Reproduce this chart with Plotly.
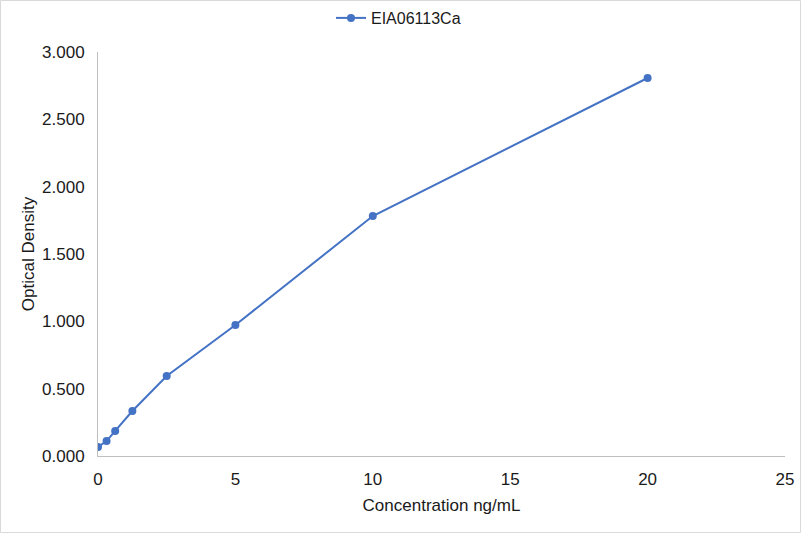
import plotly.graph_objects as go

concentration = [0, 0.3125, 0.625, 1.25, 2.5, 5, 10, 20]
optical_density = [0.067, 0.111, 0.186, 0.334, 0.594, 0.973, 1.782, 2.807]
series_name = "EIA06113Ca"

W, H = 801, 533
L, R, T, B = 98, 16, 52, 77
pw, ph = W - L - R, H - T - B
TXT = "#1a1a1a"

fig = go.Figure()
fig.add_trace(go.Scatter(
    x=concentration, y=optical_density, mode="lines+markers", name=series_name,
    line=dict(color="#4472C4", width=2),
    marker=dict(color="#4472C4", size=8),
))

fig.update_layout(
    width=W, height=H,
    margin=dict(l=L, r=R, t=T, b=B, autoexpand=False),
    paper_bgcolor="white", plot_bgcolor="white",
    font=dict(family="Liberation Sans, Arial, sans-serif", size=17, color=TXT),
    showlegend=True,
    legend=dict(orientation="h", x=(331 - L) / pw, xanchor="left", y=1 + 34 / ph, yanchor="middle",
                font=dict(size=16, color=TXT), bgcolor="rgba(0,0,0,0)"),
    xaxis=dict(range=[0, 25], tickvals=[0, 5, 10, 15, 20, 25], showgrid=False, zeroline=False,
               showline=True, linecolor="#BFBFBF", linewidth=1, ticks="", automargin=False,
               ticklabelstandoff=8,
               tickfont=dict(size=17, color=TXT),
               title=dict(text="Concentration ng/mL", font=dict(size=17, color=TXT), standoff=10)),
    yaxis=dict(range=[0, 3], tickvals=[0, 0.5, 1, 1.5, 2, 2.5, 3], tickformat=".3f", showgrid=False,
               zeroline=False, showline=True, linecolor="#BFBFBF", linewidth=1, ticks="",
               automargin=False, ticklabelstandoff=9,
               tickfont=dict(size=17, color=TXT),
               title=dict(text="Optical Density", font=dict(size=17, color=TXT), standoff=3)),
)

fig.add_shape(type="rect", xref="paper", yref="paper",
              x0=(0.5 - L) / pw, x1=(W - 0.5 - L) / pw,
              y0=-(B - 0.5) / ph, y1=1 + (T - 0.5) / ph,
              line=dict(color="#D9D9D9", width=1), fillcolor="rgba(0,0,0,0)", layer="below")

fig.write_html("out.html", include_plotlyjs=True, full_html=True,
               config={"displayModeBar": False},
               post_script="document.body.style.margin='0';document.body.style.overflow='hidden';")
